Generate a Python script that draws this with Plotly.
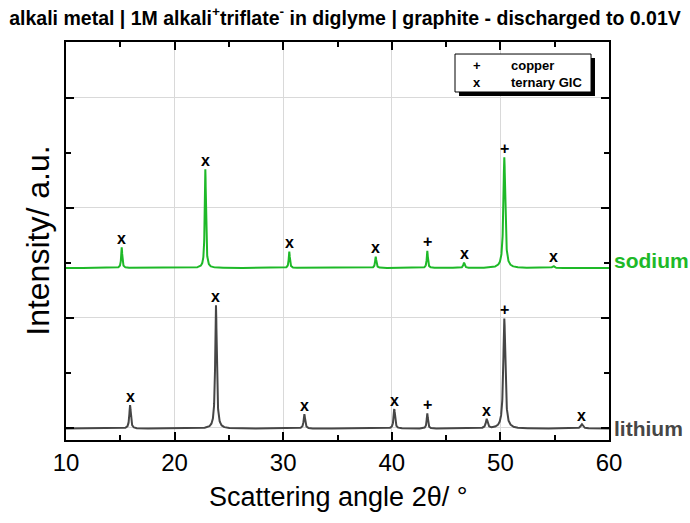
import numpy as np
import plotly.graph_objects as go

# Reflections read per pattern: position (2θ, °), height above baseline (a.u.),
# full width at half maximum (°) and assignment (+ copper, x ternary GIC)
li_two_theta = [15.9, 23.81, 31.95, 40.23, 43.27, 48.74, 50.36, 57.5]
li_height = [0.214, 1.12, 0.13, 0.177, 0.138, 0.084, 1.0, 0.04]
li_fwhm = [0.16, 0.17, 0.16, 0.16, 0.13, 0.2, 0.22, 0.25]
li_phase = ["x", "x", "x", "x", "+", "x", "+", "x"]
li_baseline = -0.008

na_two_theta = [15.13, 22.83, 30.56, 38.52, 43.27, 46.65, 50.36, 54.87]
na_height = [0.188, 0.897, 0.148, 0.103, 0.155, 0.048, 1.006, 0.018]
na_fwhm = [0.12, 0.13, 0.12, 0.13, 0.12, 0.15, 0.2, 0.2]
na_phase = ["x", "x", "x", "x", "+", "x", "+", "x"]
na_baseline = 1.452

x_ticks = [10, 20, 30, 40, 50, 60]

FONT = "Liberation Sans, Arial, sans-serif"
GREEN = "rgb(30,185,40)"
GREY = "rgb(70,70,70)"


def pattern(centres, heights, widths, base):
    """Sum of Lorentzian reflections on a flat baseline."""
    tt = np.union1d(np.arange(10.0, 60.0001, 0.01), np.array(centres))
    y = np.full_like(tt, base)
    for c, h, w in zip(centres, heights, widths):
        y += h / (1.0 + ((tt - c) / (w / 2.0)) ** 2)
    return tt, y


fig = go.Figure()

for centres, heights, widths, base, colour, name in [
    (li_two_theta, li_height, li_fwhm, li_baseline, GREY, "lithium"),
    (na_two_theta, na_height, na_fwhm, na_baseline, GREEN, "sodium"),
]:
    tt, y = pattern(centres, heights, widths, base)
    fig.add_trace(go.Scatter(x=tt, y=y, mode="lines", name=name,
                             line=dict(color=colour, width=2),
                             showlegend=False, hoverinfo="skip"))

# phase markers above each reflection
annotations = []
for centres, heights, phases, base in [
    (li_two_theta, li_height, li_phase, li_baseline),
    (na_two_theta, na_height, na_phase, na_baseline),
]:
    for c, h, p in zip(centres, heights, phases):
        annotations.append(dict(x=c, y=base + h, xref="x", yref="y", text=p,
                                showarrow=False, yanchor="middle", yshift=9,
                                font=dict(family=FONT, size=16, color="black",
                                          weight="bold")))

# pattern names at the right of the frame
annotations.append(dict(x=1.006, y=na_baseline + 0.065, xref="paper", yref="y",
                        text="sodium", showarrow=False, xanchor="left",
                        yanchor="middle",
                        font=dict(family=FONT, size=21, color=GREEN, weight="bold")))
annotations.append(dict(x=1.006, y=li_baseline, xref="paper", yref="y",
                        text="lithium", showarrow=False, xanchor="left",
                        yanchor="middle",
                        font=dict(family=FONT, size=21, color=GREY, weight="bold")))

# axis titles
annotations.append(dict(x=0.5, y=-0.143, xref="paper", yref="paper",
                        text="Scattering angle 2θ/ °", showarrow=False,
                        xanchor="center", yanchor="middle",
                        font=dict(family=FONT, size=27, color="black")))
annotations.append(dict(x=-0.052, y=0.5, xref="paper", yref="paper",
                        text="Intensity/ a.u.", showarrow=False, textangle=-90,
                        xanchor="center", yanchor="middle",
                        font=dict(family=FONT, size=32, color="black")))

# key box text
for row_y, sym, label in [(0.942, "+", "copper"), (0.897, "x", "ternary GIC")]:
    annotations.append(dict(x=0.757, y=row_y, xref="paper", yref="paper",
                            text=sym, showarrow=False, xanchor="center",
                            yanchor="middle",
                            font=dict(family=FONT, size=13, color="black",
                                      weight="bold")))
    annotations.append(dict(x=0.8158, y=row_y, xref="paper", yref="paper",
                            text=label, showarrow=False, xanchor="left",
                            yanchor="middle",
                            font=dict(family=FONT, size=13, color="black",
                                      weight="bold")))

shapes = [
    # drop shadow of the key box
    dict(type="rect", xref="paper", yref="paper", x0=0.7238, x1=0.9742,
         y0=0.8643, y1=0.9598, fillcolor="black", line=dict(width=0),
         layer="above"),
    dict(type="rect", xref="paper", yref="paper", x0=0.7164, x1=0.9669,
         y0=0.8744, y1=0.9698, fillcolor="white",
         line=dict(color="black", width=1), layer="above"),
]

fig.update_layout(
    width=690, height=523,
    margin=dict(l=66, r=81, t=42, b=83),
    paper_bgcolor="white", plot_bgcolor="white",
    title=dict(text="alkali metal | 1M alkali<sup>+</sup>triflate<sup>-</sup> in diglyme | graphite - discharged to 0.01V",
               x=0.5, xanchor="center", y=0.966, yanchor="middle",
               font=dict(family=FONT, size=19.5, color="black", weight="bold")),
    annotations=annotations,
    shapes=shapes,
    showlegend=False,
)

fig.update_xaxes(
    range=[10, 60], tickvals=x_ticks, ticktext=[str(v) for v in x_ticks],
    ticks="inside", ticklen=8, tickwidth=1.5, tickcolor="black",
    minor=dict(dtick=5, tick0=0, ticks="inside", ticklen=5, tickwidth=1.5,
               tickcolor="black", showgrid=False),
    showline=True, linecolor="black", linewidth=1.5, mirror="ticks",
    showgrid=True, gridcolor="rgb(217,217,217)", gridwidth=1,
    zeroline=False,
    tickfont=dict(family=FONT, size=24, color="black"),
)

fig.update_yaxes(
    range=[-0.112, 3.506], dtick=1, tick0=0, showticklabels=False,
    ticks="inside", ticklen=8, tickwidth=1.5, tickcolor="black",
    minor=dict(dtick=0.5, tick0=0, ticks="inside", ticklen=5, tickwidth=1.5,
               tickcolor="black", showgrid=False),
    showline=True, linecolor="black", linewidth=1.5, mirror="ticks",
    showgrid=True, gridcolor="rgb(217,217,217)", gridwidth=1,
    zeroline=False,
)

fig.write_html("out.html")
